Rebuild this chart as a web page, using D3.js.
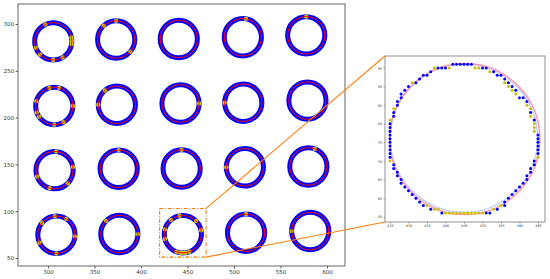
<!DOCTYPE html>
<html>
<head>
<meta charset="utf-8">
<script src="https://cdn.jsdelivr.net/npm/d3@7"></script>
<style>
  body { margin: 0; background: #fff; }
  text { font-family: "DejaVu Sans", sans-serif; }
</style>
</head>
<body>
<svg id="chart" width="550" height="279"></svg>
<script>
// ring centres, row by row (top row first), 5 columns
var ringX = [
    [305.6, 373.3, 440.6, 509.5, 577.7],
    [306.7, 374.0, 442.5, 510.0, 579.0],
    [307.0, 376.0, 443.7, 511.7, 580.0],
    [309.0, 376.7, 445.0, 513.0, 582.0]
];
var ringY = [
    [281.5, 283.4, 284.0, 285.9, 287.9],
    [212.5, 213.7, 215.2, 216.0, 218.2],
    [143.9, 145.3, 145.6, 146.9, 147.8],
    [74.9, 75.6, 75.5, 77.0, 78.8]
];
var ringR = 20;
// angles (deg) of the yellow points on each ring
var yellowAngles = [
    [[115, 12, 2, -8, 200, 225, 270, 300], [90, 132, -40], [], [80], [90]],
    [[75, 105, 165, 200, 215, 270, 300, 0], [180, 130], [0], [180], []],
    [[85, 10, -45, 255, 200], [90], [90], [180], [70]],
    [[140, 95, 58, -5, 270, 205], [135, 0], [100, 130, 165, 195, 12, 45, 250, 262, 270, 278, 290], [90], [180]]
];
var xTicks = [300, 350, 400, 450, 500, 550, 600];
var yTicks = [50, 100, 150, 200, 250, 300];

// zoom box on the main plot: x0, x1, y0, y1
var zoomBox = [420, 470, 51, 103];

// inset: pixel points of the ring at (445, 75)
var insetBlue = [
    [442, 96], [443, 96], [444, 96], [445, 96], [446, 96], [447, 96],
    [438, 95], [439, 95], [440, 95], [450, 95], [451, 95],
    [436, 94], [453, 94],
    [434, 93], [435, 93], [454, 93], [455, 93],
    [433, 92], [456, 92],
    [432, 91], [457, 91],
    [430, 90], [458, 90],
    [429, 89], [459, 89],
    [428, 88], [460, 87],
    [428, 87], [461, 87],
    [427, 86], [462, 86],
    [427, 85],
    [426, 83], [463, 83],
    [426, 82], [464, 81],
    [425, 80], [425, 79], [425, 78], [425, 77], [425, 76], [425, 75], [425, 74], [425, 73], [425, 72], [425, 71],
    [465, 77], [465, 76], [465, 75], [465, 74], [465, 73], [465, 72],
    [464, 70], [464, 69],
    [426, 69], [426, 68], [463, 68],
    [427, 67], [463, 67],
    [427, 66], [462, 66],
    [428, 65], [462, 65],
    [428, 64], [461, 64],
    [429, 63], [460, 63],
    [430, 62], [459, 62],
    [431, 61], [458, 61],
    [432, 60], [457, 60],
    [433, 59], [456, 59],
    [434, 58], [456, 58],
    [436, 57], [454, 57],
    [439, 56], [451, 56], [452, 56]
];
var insetYellow = [
    [437, 95], [441, 95], [448, 95], [449, 95],
    [452, 94],
    [431, 91],
    [456, 91], [457, 90], [458, 89], [459, 88],
    [426, 84],
    [462, 85], [463, 84], [463, 82],
    [425, 81],
    [464, 80], [464, 79], [464, 78],
    [425, 70], [465, 71],
    [435, 58], [455, 58],
    [437, 57], [438, 57], [453, 57],
    [440, 56], [441, 56], [442, 56], [443, 56], [444, 56], [445, 56],
    [446, 56], [447, 56], [448, 56], [449, 56], [450, 56]
];
// fitted circle and true circle in the inset: cx, cy, r
var fitCircle = [445.2, 75.9, 20.3];
var trueCircle = [445.0, 76.1, 19.9];
var insetXTicks = [425, 430, 435, 440, 445, 450, 455, 460, 465];
var insetYTicks = [55, 60, 65, 70, 75, 80, 85, 90, 95];

var svg = d3.select("#chart");

// ---------- main plot ----------
var m = { left: 18, right: 345, top: 4, bottom: 266 };
var x = d3.scaleLinear().domain([267.7, 619.4]).range([m.left, m.right]);
var y = d3.scaleLinear().domain([41.5, 321.4]).range([m.bottom, m.top]);

var main = svg.append("g");

var rings = [];
ringX.forEach(function (row, i) {
    row.forEach(function (cx, j) {
        rings.push({ cx: cx, cy: ringY[i][j], ya: yellowAngles[i][j] });
    });
});

// blue markers forming the ring
main.selectAll(".ringBlue")
    .data(rings)
    .enter().append("ellipse")
    .attr("class", "ringBlue")
    .attr("cx", function (d) { return x(d.cx); })
    .attr("cy", function (d) { return y(d.cy); })
    .attr("rx", function (d) { return x(d.cx + ringR) - x(d.cx); })
    .attr("ry", function (d) { return y(d.cy) - y(d.cy + ringR); })
    .attr("fill", "none")
    .attr("stroke", "#0000ff")
    .attr("stroke-width", 5);

// yellow points
var ypts = [];
rings.forEach(function (d) {
    d.ya.forEach(function (a) {
        var t = a * Math.PI / 180;
        ypts.push([d.cx + ringR * Math.cos(t), d.cy + ringR * Math.sin(t)]);
    });
});
main.selectAll(".ringYellow")
    .data(ypts)
    .enter().append("circle")
    .attr("class", "ringYellow")
    .attr("cx", function (d) { return x(d[0]); })
    .attr("cy", function (d) { return y(d[1]); })
    .attr("r", 2.2)
    .attr("fill", "#cfc400");

// red fitted circles
main.selectAll(".ringRed")
    .data(rings)
    .enter().append("ellipse")
    .attr("class", "ringRed")
    .attr("cx", function (d) { return x(d.cx); })
    .attr("cy", function (d) { return y(d.cy); })
    .attr("rx", function (d) { return x(d.cx + ringR) - x(d.cx); })
    .attr("ry", function (d) { return y(d.cy) - y(d.cy + ringR); })
    .attr("fill", "none")
    .attr("stroke", "#ff0000")
    .attr("stroke-width", 1);

// axes
var xAxis = main.append("g")
    .attr("transform", "translate(0," + m.bottom + ")")
    .call(d3.axisBottom(x).tickValues(xTicks).tickSize(2.5).tickPadding(1.5));
var yAxis = main.append("g")
    .attr("transform", "translate(" + m.left + ",0)")
    .call(d3.axisLeft(y).tickValues(yTicks).tickSize(2.5).tickPadding(1.5));
[xAxis, yAxis].forEach(function (a) {
    a.select(".domain").remove();
    a.selectAll("line").attr("stroke", "#333").attr("stroke-width", 0.8);
    a.selectAll("text").attr("fill", "#333").style("font-size", "5.5px");
});
main.append("rect")
    .attr("x", m.left).attr("y", m.top)
    .attr("width", m.right - m.left).attr("height", m.bottom - m.top)
    .attr("fill", "none").attr("stroke", "#555").attr("stroke-width", 0.9);

// ---------- inset ----------
var n = { left: 385, right: 545, top: 56, bottom: 222 };
var xi = d3.scaleLinear().domain([423.65, 466.9]).range([n.left, n.right]);
var yi = d3.scaleLinear().domain([53.6, 98.2]).range([n.bottom, n.top]);

var inset = svg.append("g");
inset.append("rect")
    .attr("x", n.left).attr("y", n.top)
    .attr("width", n.right - n.left).attr("height", n.bottom - n.top)
    .attr("fill", "#fff");

inset.append("ellipse")
    .attr("cx", xi(trueCircle[0])).attr("cy", yi(trueCircle[1]))
    .attr("rx", xi(trueCircle[0] + trueCircle[2]) - xi(trueCircle[0]))
    .attr("ry", yi(trueCircle[1]) - yi(trueCircle[1] + trueCircle[2]))
    .attr("fill", "none").attr("stroke", "#9db4ff").attr("stroke-width", 1.5).attr("opacity", 0.6);
inset.append("ellipse")
    .attr("cx", xi(fitCircle[0])).attr("cy", yi(fitCircle[1]))
    .attr("rx", xi(fitCircle[0] + fitCircle[2]) - xi(fitCircle[0]))
    .attr("ry", yi(fitCircle[1]) - yi(fitCircle[1] + fitCircle[2]))
    .attr("fill", "none").attr("stroke", "#ff8a9a").attr("stroke-width", 1.5).attr("opacity", 0.85);

inset.selectAll(".iblue")
    .data(insetBlue)
    .enter().append("circle")
    .attr("class", "iblue")
    .attr("cx", function (d) { return xi(d[0]); })
    .attr("cy", function (d) { return yi(d[1]); })
    .attr("r", 1.5)
    .attr("fill", "#0000ff");
inset.selectAll(".iyellow")
    .data(insetYellow)
    .enter().append("circle")
    .attr("class", "iyellow")
    .attr("cx", function (d) { return xi(d[0]); })
    .attr("cy", function (d) { return yi(d[1]); })
    .attr("r", 1.5)
    .attr("fill", "#c8c000");

var xiAxis = inset.append("g")
    .attr("transform", "translate(0," + n.bottom + ")")
    .call(d3.axisBottom(xi).tickValues(insetXTicks).tickSize(1.5).tickPadding(1.5));
var yiAxis = inset.append("g")
    .attr("transform", "translate(" + n.left + ",0)")
    .call(d3.axisLeft(yi).tickValues(insetYTicks).tickSize(1.5).tickPadding(1.5));
[xiAxis, yiAxis].forEach(function (a) {
    a.select(".domain").remove();
    a.selectAll("line").attr("stroke", "#444").attr("stroke-width", 0.5);
    a.selectAll("text").attr("fill", "#444").style("font-size", "3.4px");
});
inset.append("rect")
    .attr("x", n.left).attr("y", n.top)
    .attr("width", n.right - n.left).attr("height", n.bottom - n.top)
    .attr("fill", "none").attr("stroke", "#777").attr("stroke-width", 0.8);

// ---------- zoom box and connectors ----------
var orange = "#ff7f0e";
svg.append("rect")
    .attr("x", x(zoomBox[0])).attr("y", y(zoomBox[3]))
    .attr("width", x(zoomBox[1]) - x(zoomBox[0]))
    .attr("height", y(zoomBox[2]) - y(zoomBox[3]))
    .attr("fill", "none").attr("stroke", orange).attr("stroke-width", 1.1)
    .attr("stroke-dasharray", "4,1.5,1,1.5");
svg.append("line")
    .attr("x1", x(zoomBox[1])).attr("y1", y(zoomBox[3]))
    .attr("x2", n.left).attr("y2", n.top)
    .attr("stroke", orange).attr("stroke-width", 1.1);
svg.append("line")
    .attr("x1", x(zoomBox[1])).attr("y1", y(zoomBox[2]))
    .attr("x2", n.left).attr("y2", n.bottom)
    .attr("stroke", orange).attr("stroke-width", 1.1);
</script>
</body>
</html>
